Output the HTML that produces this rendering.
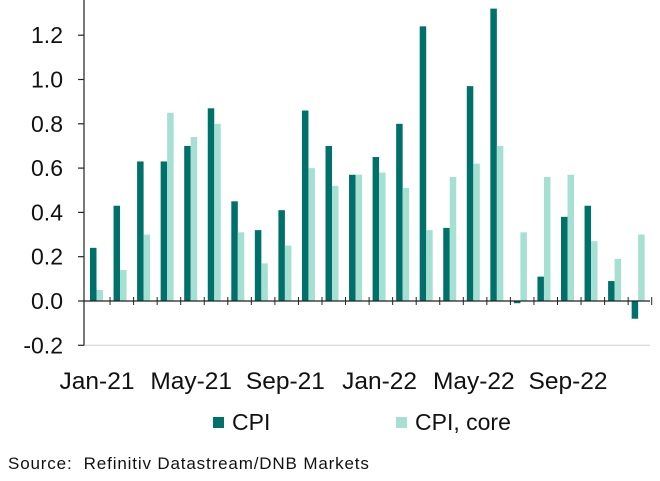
<!DOCTYPE html>
<html><head><meta charset="utf-8"><style>
body{margin:0;background:#fff}
svg{display:block;font-family:"Liberation Sans",Arial,sans-serif}
</style></head><body>
<svg id="chart" width="660" height="481"></svg>
<script>
const categories=["Jan-21","Feb-21","Mar-21","Apr-21","May-21","Jun-21","Jul-21","Aug-21","Sep-21","Oct-21","Nov-21","Dec-21","Jan-22","Feb-22","Mar-22","Apr-22","May-22","Jun-22","Jul-22","Aug-22","Sep-22","Oct-22","Nov-22","Dec-22"];
const cpiValues=[0.24,0.43,0.63,0.63,0.70,0.87,0.45,0.32,0.41,0.86,0.70,0.57,0.65,0.80,1.24,0.33,0.97,1.32,-0.01,0.11,0.38,0.43,0.09,-0.08];
const coreValues=[0.05,0.14,0.30,0.85,0.74,0.80,0.31,0.17,0.25,0.60,0.52,0.57,0.58,0.51,0.32,0.56,0.62,0.70,0.31,0.56,0.57,0.27,0.19,0.30];
const yTicks=[-0.2,0.0,0.2,0.4,0.6,0.8,1.0,1.2];
const xLabelIdx=[0,4,8,12,16,20];
const NS="http://www.w3.org/2000/svg";
const svg=document.getElementById('chart');
const x0=86.5,step=23.55,yZero=301,pxPer=221.5;
const y=v=>yZero-v*pxPer;
const xb=i=>x0+i*step;
function mk(t,a,txt){const e=document.createElementNS(NS,t);for(const k in a)e.setAttribute(k,a[k]);if(txt!==undefined)e.textContent=txt;svg.appendChild(e);return e;}
let g=mk('line',{x1:84,x2:650,y1:y(-0.2),y2:y(-0.2),stroke:'#d0d0d0','stroke-width':1});


categories.forEach((c,i)=>{
  const v=cpiValues[i];
  let r=mk('rect',{x:xb(i)+3.5,y:Math.min(y(v),yZero),width:6.5,height:Math.abs(y(v)-yZero),fill:'#00706b'});
  
  
  const w=coreValues[i];
  let r2=mk('rect',{x:xb(i)+10,y:Math.min(y(w),yZero),width:6.5,height:Math.abs(y(w)-yZero),fill:'#a5e0d2'});
  
  
});
let ya=mk('line',{x1:84,x2:84,y1:0,y2:y(-0.2),stroke:'#222','stroke-width':1.2});


let xa=mk('line',{x1:84,x2:650,y1:yZero,y2:yZero,stroke:'#222','stroke-width':1.2});


yTicks.forEach(t=>{
  let tk=mk('line',{x1:78,x2:84,y1:y(t),y2:y(t),stroke:'#222','stroke-width':1.2});
  
  
  let l=mk('text',{x:63,y:y(t)+8,'text-anchor':'end','font-size':23,fill:'#111'},t.toFixed(1));
  
  
});
for(let i=1;i<=categories.length;i++){
  let tk=mk('line',{x1:xb(i),x2:xb(i),y1:yZero-4,y2:yZero+4,stroke:'#222','stroke-width':1});
  
  
}
xLabelIdx.forEach(i=>{
  let l=mk('text',{x:xb(i)+10.5,y:389,'text-anchor':'middle','font-size':24.5,fill:'#111'},categories[i]);
  
  
});
</script>
<div style="position:absolute;left:0;top:0;width:660px;height:481px;pointer-events:none">
<div style="position:absolute;left:213px;top:409px;font:23px 'Liberation Sans',sans-serif;color:#111;display:flex;align-items:center"><span style="width:11px;height:11px;background:#00706b;margin-right:8px"></span>CPI</div>
<div style="position:absolute;left:396px;top:409px;font:23px 'Liberation Sans',sans-serif;color:#111;display:flex;align-items:center"><span style="width:11px;height:11px;background:#a5e0d2;margin-right:8px"></span>CPI, core</div>
<div style="position:absolute;left:8px;top:454px;font:17px 'Liberation Sans',sans-serif;color:#111;letter-spacing:0.85px">Source:&nbsp; Refinitiv Datastream/DNB Markets</div>
</div>
</body></html>
